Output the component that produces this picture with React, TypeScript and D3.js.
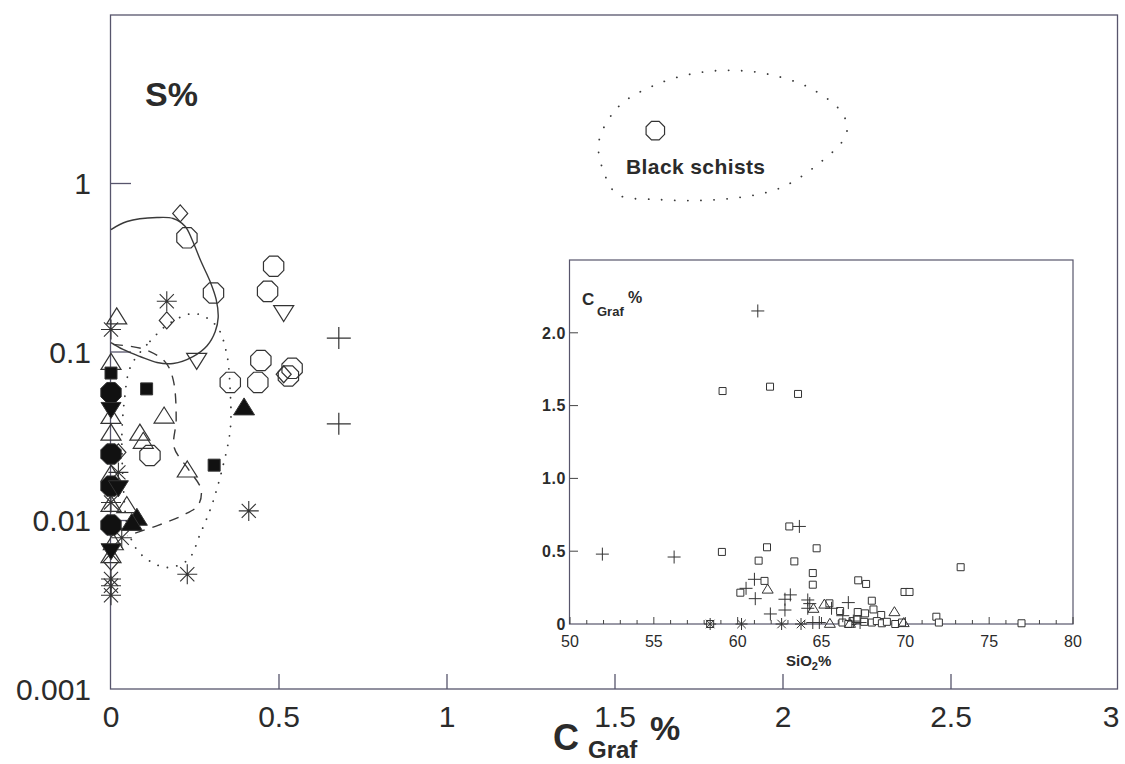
import React from "react";
import * as d3 from "d3";

const W = 1125;
const H = 764;
const FONT = "'Liberation Sans', Arial, Helvetica, sans-serif";
const INK = "#2b2b2b";
const FRAME = "#57556c";

type Pt = [number, number];

// ---- Main panel: C graphite (%) vs S (%) ----
const xTicks = [0, 0.5, 1, 1.5, 2, 2.5, 3];
const xTickLabels = ["0", "0.5", "1", "1.5", "2", "2.5", "3"];
const yTicks = [0.001, 0.01, 0.1, 1];
const yTickLabels = ["0.001", "0.01", "0.1", "1"];

const openOctagons: Pt[] = [
  [0.226, 0.476], [0.305, 0.224], [0.484, 0.323], [0.466, 0.229], [0.446, 0.089],
  [0.355, 0.066], [0.437, 0.066], [0.539, 0.08], [0.528, 0.072], [0.116, 0.0243],
];
const openDiamonds: Pt[] = [
  [0.206, 0.664], [0.166, 0.154], [0.514, 0.0738], [0.022, 0.0254], [0.0, 0.0057],
];
const openTriangles: Pt[] = [
  [0.017, 0.162], [0.0, 0.087], [0.0, 0.0416], [0.158, 0.0418], [0.0, 0.0331],
  [0.086, 0.0331], [0.096, 0.0296], [0.0, 0.0189], [0.227, 0.02], [0.0, 0.0125],
  [0.047, 0.0123], [0.007, 0.0074], [0.0, 0.0062],
];
const openInvTriangles: Pt[] = [[0.514, 0.171], [0.255, 0.089]];
const asterisks: Pt[] = [
  [0.166, 0.2], [0.0, 0.136], [0.022, 0.0193], [0.41, 0.0114], [0.032, 0.0079],
  [0.0, 0.0128], [0.0, 0.0045], [0.0, 0.0041], [0.0, 0.0036], [0.227, 0.0048],
];
const crosses: Pt[] = [[0.678, 0.121], [0.678, 0.0375]];
const filledSquares: Pt[] = [[0.0, 0.075], [0.106, 0.0604], [0.307, 0.0213]];
const filledOctagons: Pt[] = [[0.0, 0.0574], [0.0, 0.0248], [0.0, 0.016], [0.0, 0.0094]];
const filledTriangles: Pt[] = [[0.396, 0.047], [0.077, 0.0104], [0.062, 0.0097]];
const filledInvTriangles: Pt[] = [[0.0, 0.0455], [0.022, 0.0156], [0.0, 0.0066]];
const blackSchist: Pt[] = [[1.62, 2.06]];

// field outlines
const solidField: Pt[] = [
  [0, 0.533], [0.0477, 0.595], [0.137, 0.628], [0.185, 0.62], [0.221, 0.556],
  [0.241, 0.465], [0.268, 0.344], [0.295, 0.262], [0.313, 0.205], [0.319, 0.16],
  [0.31, 0.132], [0.286, 0.109], [0.244, 0.094], [0.185, 0.0855], [0.137, 0.0866],
  [0.0864, 0.094], [0.0358, 0.1035], [0, 0.1137],
];
const dashedField: Pt[] = [
  [0.006, 0.111], [0.101, 0.1035], [0.161, 0.0874], [0.185, 0.0686], [0.194, 0.0398],
  [0.188, 0.0271], [0.23, 0.0202], [0.268, 0.0153], [0.259, 0.0123], [0.212, 0.0107],
  [0.14, 0.00936], [0.048, 0.00813],
];
const dottedField: Pt[] = [
  [0.0656, 0.0874], [0.116, 0.1156], [0.176, 0.149], [0.25, 0.169], [0.313, 0.1434],
  [0.343, 0.1007], [0.355, 0.0576], [0.355, 0.0347], [0.331, 0.0202], [0.301, 0.0125],
  [0.265, 0.00828], [0.23, 0.00587], [0.167, 0.00526], [0.116, 0.00574], [0.0775, 0.0067],
  [0.0507, 0.00883], [0.0358, 0.0175], [0.0328, 0.0347], [0.0417, 0.0558], [0.0507, 0.0738],
];
const schistField: Pt[] = [
  [1.452, 1.775], [1.511, 2.865], [1.615, 3.81], [1.735, 4.5], [1.854, 4.69],
  [1.973, 4.38], [2.089, 3.61], [2.179, 2.57], [2.188, 1.95], [2.092, 1.245],
  [1.988, 0.934], [1.869, 0.826], [1.75, 0.793], [1.627, 0.804], [1.508, 0.861],
  [1.466, 1.178],
];

// ---- Inset: SiO2 (%) vs C graphite (%) ----
const insetXTicks = [50, 55, 60, 65, 70, 75, 80];
const insetYTicks = [0, 0.5, 1.0, 1.5, 2.0];
const insetYTickLabels = ["0", "0.5", "1.0", "1.5", "2.0"];

const insetSquares: Pt[] = [
  [59.1, 1.6], [61.93, 1.63], [63.6, 1.58], [59.06, 0.495], [63.08, 0.67],
  [61.25, 0.435], [61.75, 0.527], [63.38, 0.43], [64.71, 0.52], [64.48, 0.35],
  [64.48, 0.27], [61.6, 0.296], [60.16, 0.215], [73.3, 0.39], [67.19, 0.3],
  [67.66, 0.275], [69.95, 0.22], [70.25, 0.22], [68.0, 0.16], [68.1, 0.1],
  [68.56, 0.062], [67.16, 0.082], [67.6, 0.073], [66.11, 0.089], [65.47, 0.142],
  [71.85, 0.05], [72.0, 0.01], [76.93, 0.005], [58.36, 0.0], [66.25, 0.01],
  [66.85, 0.02], [67.15, 0.03], [67.55, 0.015], [68.0, 0.01], [68.3, 0.02],
  [68.6, 0.005], [68.9, 0.015], [69.4, 0.0], [69.8, 0.01], [66.6, 0.0],
];
const insetCrosses: Pt[] = [
  [61.2, 2.15], [51.93, 0.48], [56.21, 0.46], [63.68, 0.67], [61.0, 0.307],
  [60.5, 0.245], [61.05, 0.174], [62.82, 0.17], [63.14, 0.2], [62.82, 0.096],
  [61.95, 0.069], [64.18, 0.165], [64.18, 0.108], [64.3, 0.14], [65.6, 0.108],
  [66.6, 0.147], [66.27, 0.057], [64.48, 0.01], [64.87, 0.01], [66.9, 0.02],
  [67.3, 0.01],
];
const insetTriangles: Pt[] = [
  [61.79, 0.24], [64.52, 0.108], [65.17, 0.137], [69.35, 0.085], [65.5, 0.005],
  [69.9, 0.01], [66.7, 0.005],
];
const insetAsterisks: Pt[] = [[58.36, 0.0], [60.23, 0.0], [62.62, 0.0], [63.78, 0.0]];

// ---- shape paths centred on the origin ----
function octagon(r: number): string {
  const pts = d3.range(8).map((k) => {
    const a = Math.PI / 8 + (k * Math.PI) / 4;
    return [r * Math.cos(a), r * Math.sin(a)];
  });
  return "M" + pts.map((p) => p.join(",")).join("L") + "Z";
}
const diamond = (w: number, h: number) =>
  `M0,${-h / 2}L${w / 2},0L0,${h / 2}L${-w / 2},0Z`;
const triUp = (w: number, h: number) =>
  `M0,${-h * 0.55}L${w / 2},${h * 0.45}L${-w / 2},${h * 0.45}Z`;
const triDown = (w: number, h: number) =>
  `M0,${h * 0.55}L${w / 2},${-h * 0.45}L${-w / 2},${-h * 0.45}Z`;
const square = (s: number) => `M${-s / 2},${-s / 2}h${s}v${s}h${-s}Z`;
const cross = (w: number, h: number) => `M${-w / 2},0H${w / 2}M0,${-h / 2}V${h / 2}`;
function asterisk(r: number): string {
  const d = r * Math.SQRT1_2;
  return `M${-r},0H${r}M0,${-r}V${r}M${-d},${-d}L${d},${d}M${-d},${d}L${d},${-d}`;
}

type MarkSpec = { data: Pt[]; d: string; fill: string; sw: number };

export default function App() {
  const x = d3.scaleLinear().domain([0, 3]).range([111, 1119]);
  const y = d3.scaleLog().domain([0.001, 10]).range([689, 15]);

  const ix = d3.scaleLinear().domain([50, 80]).range([570, 1073]);
  const iy = d3.scaleLinear().domain([0, 2.5]).range([624, 260]);

  const lineOpen = d3
    .line<Pt>()
    .x((d) => x(d[0]))
    .y((d) => y(d[1]))
    .curve(d3.curveCatmullRom.alpha(0.5));
  const lineClosed = d3
    .line<Pt>()
    .x((d) => x(d[0]))
    .y((d) => y(d[1]))
    .curve(d3.curveCatmullRomClosed.alpha(0.5));

  const mainMarks: MarkSpec[] = [
    { data: openOctagons, d: octagon(11), fill: "none", sw: 1.2 },
    { data: blackSchist, d: octagon(10), fill: "none", sw: 1.2 },
    { data: openDiamonds, d: diamond(15, 17), fill: "none", sw: 1.2 },
    { data: openTriangles, d: triUp(20, 16), fill: "none", sw: 1.2 },
    { data: openInvTriangles, d: triDown(20, 16), fill: "none", sw: 1.2 },
    { data: asterisks, d: asterisk(10), fill: "none", sw: 1.1 },
    { data: crosses, d: cross(24, 22), fill: "none", sw: 1.2 },
    { data: filledSquares, d: square(12), fill: "#111", sw: 1 },
    { data: filledOctagons, d: octagon(11), fill: "#111", sw: 1 },
    { data: filledTriangles, d: triUp(21, 17), fill: "#111", sw: 1 },
    { data: filledInvTriangles, d: triDown(20, 16), fill: "#111", sw: 1 },
  ];

  const insetMarks: MarkSpec[] = [
    { data: insetSquares, d: square(7), fill: "white", sw: 1 },
    { data: insetTriangles, d: triUp(11, 9), fill: "none", sw: 1 },
    { data: insetCrosses, d: cross(13, 13), fill: "none", sw: 1 },
    { data: insetAsterisks, d: asterisk(6), fill: "none", sw: 1 },
  ];

  const insetMinor = d3.range(51, 80).filter((v) => v % 5 !== 0);

  return (
    <svg
      width={W}
      height={H}
      viewBox={`0 0 ${W} ${H}`}
      style={{ position: "absolute", left: 0, top: 0, background: "white" }}
      fontFamily={FONT}
    >
      <rect width={W} height={H} fill="white" />

      {/* main frame */}
      <rect
        x={x(0) - 0.5}
        y={y(10)}
        width={x(3) - x(0) - 1}
        height={y(0.001) - y(10)}
        fill="none"
        stroke={FRAME}
        strokeWidth={1.3}
      />

      {/* y ticks and labels */}
      {yTicks.map((t, i) => (
        <g key={`yt${i}`}>
          {t > 0.001 && (
            <line x1={x(0)} x2={x(0) + 20} y1={y(t)} y2={y(t)} stroke={FRAME} strokeWidth={1.3} />
          )}
          <text x={91} y={y(t)} dy="0.36em" textAnchor="end" fontSize={30} fill={INK}>
            {yTickLabels[i]}
          </text>
        </g>
      ))}

      {/* x ticks and labels */}
      {xTicks.map((t, i) => (
        <g key={`xt${i}`}>
          {t > 0 && t < 3 && (
            <line x1={x(t)} x2={x(t)} y1={y(0.001)} y2={y(0.001) - 15} stroke={FRAME} strokeWidth={1.3} />
          )}
          <text
            x={Math.min(x(t), W - 14)}
            y={727}
            textAnchor="middle"
            fontSize={30}
            fill={INK}
          >
            {xTickLabels[i]}
          </text>
        </g>
      ))}

      {/* axis titles */}
      <text x={145} y={106} fontSize={34} fontWeight="bold" fill={INK}>
        S%
      </text>
      <text x={553} y={750} fontSize={36} fontWeight="bold" fill={INK}>
        C
      </text>
      <text x={588} y={758} fontSize={24} fontWeight="bold" fill={INK}>
        Graf
      </text>
      <text x={650} y={740} fontSize={34} fontWeight="bold" fill={INK}>
        %
      </text>

      {/* field outlines */}
      <path d={lineOpen(solidField) ?? ""} fill="none" stroke="#3a3a3a" strokeWidth={1.4} />
      <path
        d={lineOpen(dashedField) ?? ""}
        fill="none"
        stroke="#3a3a3a"
        strokeWidth={1.4}
        strokeDasharray="10 8"
      />
      <path
        d={lineClosed(dottedField) ?? ""}
        fill="none"
        stroke="#3a3a3a"
        strokeWidth={1.8}
        strokeDasharray="0.1 9.5"
        strokeLinecap="round"
      />
      <path
        d={lineClosed(schistField) ?? ""}
        fill="none"
        stroke="#3a3a3a"
        strokeWidth={1.8}
        strokeDasharray="0.1 13"
        strokeLinecap="round"
      />
      <text x={626} y={174} fontSize={21} fontWeight="bold" fill={INK} letterSpacing={0.4}>
        Black schists
      </text>

      {/* main markers */}
      {mainMarks.map((m, mi) =>
        m.data.map((p, pi) => (
          <path
            key={`m${mi}-${pi}`}
            d={m.d}
            transform={`translate(${x(p[0])},${y(p[1])})`}
            fill={m.fill}
            stroke="#333"
            strokeWidth={m.sw}
          />
        ))
      )}

      {/* inset */}
      <g>
        <rect
          x={ix(50) - 0.5}
          y={iy(2.5)}
          width={ix(80) - ix(50) + 0.5}
          height={iy(0) - iy(2.5)}
          fill="white"
          stroke={FRAME}
          strokeWidth={1.2}
        />
        {insetMinor.map((v) => (
          <line key={`im${v}`} x1={ix(v)} x2={ix(v)} y1={iy(0)} y2={iy(0) - 4} stroke="#444" strokeWidth={1} />
        ))}
        {insetXTicks.map((v) => (
          <g key={`ix${v}`}>
            <line x1={ix(v)} x2={ix(v)} y1={iy(0)} y2={iy(0) - 7} stroke="#444" strokeWidth={1} />
            <text x={ix(v)} y={647} textAnchor="middle" fontSize={16} fill={INK}>
              {v}
            </text>
          </g>
        ))}
        {insetYTicks.map((v, i) => (
          <g key={`iy${i}`}>
            {v > 0 && (
              <line x1={ix(50)} x2={ix(50) + 8} y1={iy(v)} y2={iy(v)} stroke="#444" strokeWidth={1} />
            )}
            <text
              x={566}
              y={iy(v)}
              dy="0.36em"
              textAnchor="end"
              fontSize={16}
              fontWeight="bold"
              fill={INK}
              letterSpacing={0.6}
            >
              {insetYTickLabels[i]}
            </text>
          </g>
        ))}
        <text x={786} y={666} fontSize={15} fontWeight="bold" fill={INK}>
          SiO
          <tspan fontSize={11} dy={4}>2</tspan>
          <tspan dy={-4}>%</tspan>
        </text>
        <text x={582} y={305} fontSize={17} fontWeight="bold" fill={INK}>
          C
        </text>
        <text x={597} y={316} fontSize={13} fontWeight="bold" fill={INK}>
          Graf
        </text>
        <text x={628} y={303} fontSize={16} fontWeight="bold" fill={INK}>
          %
        </text>

        {insetMarks.map((m, mi) =>
          m.data.map((p, pi) => (
            <path
              key={`i${mi}-${pi}`}
              d={m.d}
              transform={`translate(${ix(p[0])},${iy(p[1])})`}
              fill={m.fill}
              stroke="#333"
              strokeWidth={m.sw}
            />
          ))
        )}
      </g>
    </svg>
  );
}
